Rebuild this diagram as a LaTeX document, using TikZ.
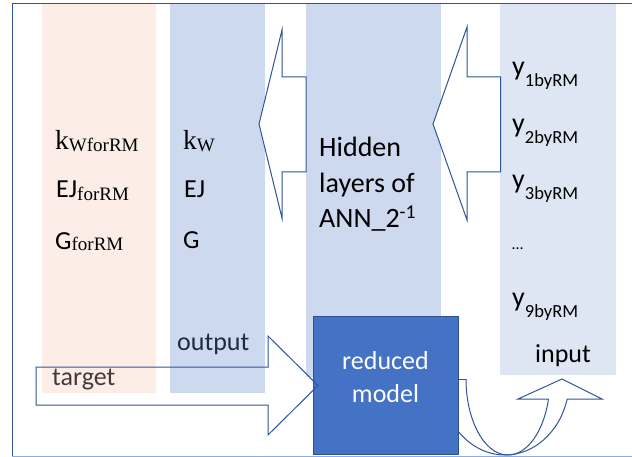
\documentclass[tikz,border=0pt]{standalone}
\usepackage{fontspec}
\setmainfont{Carlito}
\newfontfamily\tnr{Liberation Serif}
\definecolor{frameblue}{RGB}{47,85,151}
\definecolor{framelight}{RGB}{143,170,220}
\definecolor{peach}{RGB}{252,238,230}
\definecolor{colblue}{RGB}{205,217,238}
\definecolor{inblue}{RGB}{222,230,243}
\definecolor{boxblue}{RGB}{68,114,196}
\definecolor{boxedge}{RGB}{47,82,143}
\definecolor{outtxt}{RGB}{32,42,64}
\definecolor{tgttxt}{RGB}{64,60,60}
\newcommand\bigsz{\fontsize{26}{30}\selectfont}
\newcommand\hidsz{\fontsize{28}{32}\selectfont}
\newcommand\subsz{\fontsize{18.5}{20}\selectfont}
\newcommand\serk{\fontsize{27.5}{30}\selectfont}
\newcommand\sersub{\fontsize{19}{20}\selectfont}
\begin{document}
\begin{tikzpicture}[x=1pt,y=-1pt,
  colbox/.style={inner sep=0pt, outer sep=0pt, draw=none, anchor=north west},
  lbl/.style={inner sep=0pt, anchor=base west, font=\bigsz},
  blockarrow/.style={draw=frameblue, line width=1pt, fill=white, line join=miter},
  openarrow/.style={draw=frameblue, line width=1pt, line join=miter}]
\useasboundingbox (0,0) rectangle (632,457);
% columns
\node[colbox, fill=peach, minimum width=114pt, minimum height=390pt] (tcol) at (42,3) {};
\node[colbox, fill=colblue, minimum width=95pt, minimum height=390pt] (ocol) at (170,3) {};
\node[colbox, fill=colblue, minimum width=135pt, minimum height=373pt] (hcol) at (306,4) {};
\node[colbox, fill=inblue, minimum width=116pt, minimum height=371pt] (icol) at (500,4) {};
% left block arrows
\draw[blockarrow] (259,124) -- (282,30) -- (282,77) -- (306,77) -- (306,172) -- (282,172) -- (282,218) -- cycle;
\draw[blockarrow] (433,124) -- (467,27) -- (467,77) -- (500.7,77) -- (500.7,172) -- (467,172) -- (467,220) -- cycle;
% curved up arrow
\coordinate (cstart) at (440.5,379);
\coordinate (cin) at (466,379);
\draw[openarrow] (cstart) -- (cin);
\draw[openarrow] plot[domain=180:15.3,samples=60] ({505+64.5*cos(\x)},{379+76*sin(\x)});
\draw[openarrow] plot[domain=180:15.3,samples=60] ({508+42*cos(\x)},{379+76*sin(\x)});
\coordinate (hl) at (548.5,399);
\coordinate (hr) at (567.2,399);
\coordinate (ctip) at (562,379);
\draw[openarrow] (hl) -- (518,399) -- (ctip) -- (602,399) -- (hr);
% reduced model box
\node[colbox, fill=boxblue, draw=boxedge, line width=0.8pt, minimum width=145pt, minimum height=138pt] (rm) at (313,316) {};
% right block arrow
\draw[openarrow] (36,367) -- (268,367) -- (268,336) -- (318,385.5) -- (268,435) -- (268,405) -- (36,405) -- cycle;
% frame
\draw[frameblue, line width=0.9pt] (633,3) -- (12,3) -- (12,456);
\draw[framelight, line width=0.9pt] (12,456) -- (633,456);
% target column labels
\node[lbl] (t1) at (55,150) {{\tnr\serk k\raisebox{-2pt}{\sersub WforRM}}};
\node[lbl] (t2) at (56,198) {EJ\raisebox{-3pt}{\tnr\sersub forRM}};
\node[lbl] (t3) at (55,250) {G\raisebox{-1pt}{\tnr\sersub forRM}};
\node[lbl, text=tgttxt] (t4) at (52,385) {target};
% output column labels
\node[lbl] (o1) at (183,150) {{\tnr\serk k\raisebox{-2pt}{\sersub W}}};
\node[lbl] (o2) at (184,198) {EJ};
\node[lbl] (o3) at (183,249) {G};
\node[lbl, text=outtxt] (o4) at (177,350) {output};
% hidden layers
\node[lbl, font=\hidsz] (h1) at (319,157) {Hidden};
\node[lbl, font=\hidsz] (h2) at (319,193) {layers of};
\node[lbl, font=\hidsz] (h3) at (319,228) {ANN\_2\textsuperscript{-1}};
% input column
\node[lbl, font=\fontsize{28}{30}\selectfont] (y1) at (512,76) {y\raisebox{-11pt}{\subsz 1byRM}};
\node[lbl, font=\fontsize{28}{30}\selectfont] (y2) at (512,132.5) {y\raisebox{-11pt}{\subsz 2byRM}};
\node[lbl, font=\fontsize{28}{30}\selectfont] (y3) at (512,189) {y\raisebox{-11pt}{\subsz 3byRM}};
\node[lbl, font=\fontsize{16}{18}\selectfont] (ydots) at (512,250) {…};
\node[lbl, font=\fontsize{28}{30}\selectfont] (y9) at (512,306) {y\raisebox{-11pt}{\subsz 9byRM}};
\node[lbl] (inp) at (535,362) {input};
% reduced model text
\node[inner sep=0pt, anchor=base, text=white, font=\bigsz] (rm1) at (385.5,369) {reduced};
\node[inner sep=0pt, anchor=base, text=white, font=\bigsz] (rm2) at (385.5,402) {model};
\end{tikzpicture}
\end{document}
